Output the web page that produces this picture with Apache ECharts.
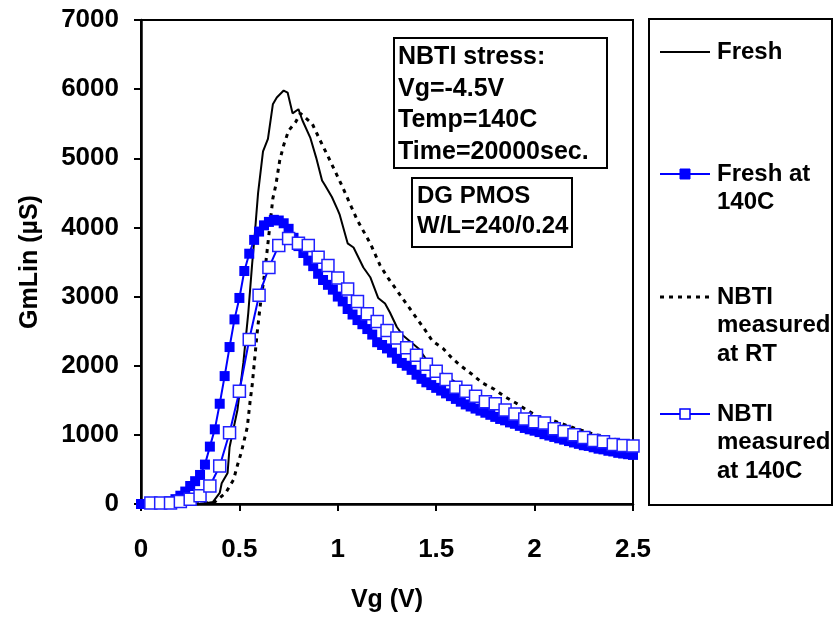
<!DOCTYPE html>
<html><head><meta charset="utf-8">
<script src="https://cdn.jsdelivr.net/npm/echarts@6/dist/echarts.min.js"></script>
<style>html,body{margin:0;padding:0;background:#fff}#c{width:835px;height:618px}</style>
</head><body><div id="c"></div>
<script>
// ---- Data ----
const xTicks = [0, 0.5, 1, 1.5, 2, 2.5];
const yTicks = [0, 1000, 2000, 3000, 4000, 5000, 6000, 7000];
const seriesNames = ['Fresh', 'Fresh at 140C', 'NBTI measured at RT', 'NBTI measured at 140C'];

const vgFresh = [0,0.1,0.2,0.3,0.335,0.366,0.40,0.41,0.44,0.45,0.49,0.52,0.545,0.565,0.58,0.585,0.595,0.62,0.645,0.67,0.69,0.70,0.725,0.745,0.77,0.80,0.82,0.86,0.89,0.92,0.935,0.97,1.0,1.01,1.05,1.08,1.13,1.165,1.205,1.24,1.265,1.30,1.33,1.41,1.46,1.5,1.55,1.6,1.7,1.8,1.9,2.0,2.1,2.2,2.3,2.4,2.5];
const gmFresh = [0,0,0,5,15,30,160,300,450,820,1360,2040,2760,3480,3960,4150,4500,5100,5280,5780,5880,5900,5980,5950,5650,5710,5550,5300,5010,4680,4610,4440,4250,4180,3770,3710,3420,3280,2980,2900,2770,2560,2440,2250,2050,1960,1850,1760,1590,1440,1320,1220,1120,1030,960,890,830];

const vgRT = [0,0.2,0.3,0.375,0.43,0.47,0.49,0.51,0.54,0.555,0.565,0.59,0.605,0.63,0.645,0.67,0.685,0.705,0.725,0.75,0.785,0.81,0.87,0.91,0.96,1.02,1.07,1.10,1.165,1.215,1.255,1.30,1.36,1.40,1.445,1.48,1.535,1.58,1.62,1.68,1.735,1.795,1.85,1.905,1.96,2.03,2.09,2.2,2.3,2.4,2.5];
const gmRT = [0,0,5,30,160,350,560,750,1110,1500,1720,2470,2850,3380,3770,4420,4610,4970,5190,5400,5520,5650,5500,5260,4970,4610,4290,4100,3770,3450,3270,3090,2850,2690,2510,2360,2250,2110,2010,1880,1750,1660,1550,1460,1360,1240,1210,1100,1010,940,880];

const vgHot = [0,0.025,0.05,0.075,0.1,0.125,0.15,0.175,0.2,0.225,0.25,0.275,0.3,0.325,0.35,0.375,0.4,0.425,0.45,0.475,0.5,0.525,0.55,0.575,0.6,0.625,0.65,0.675,0.7,0.725,0.75,0.775,0.8,0.825,0.85,0.875,0.9,0.925,0.95,0.975,1.0,1.025,1.05,1.075,1.1,1.125,1.15,1.175,1.2,1.225,1.25,1.275,1.3,1.325,1.35,1.375,1.4,1.425,1.45,1.475,1.5,1.525,1.55,1.575,1.6,1.625,1.65,1.675,1.7,1.725,1.75,1.775,1.8,1.825,1.85,1.875,1.9,1.925,1.95,1.975,2.0,2.025,2.05,2.075,2.1,2.125,2.15,2.175,2.2,2.225,2.25,2.275,2.3,2.325,2.35,2.375,2.4,2.425,2.45,2.475,2.5];
const gmHot = [0,0,5,10,15,25,40,70,120,180,260,330,420,570,830,1080,1450,1850,2270,2670,2980,3370,3620,3820,3940,4030,4080,4110,4100,4060,3980,3850,3730,3630,3520,3440,3330,3240,3170,3100,3000,2930,2820,2740,2660,2600,2530,2450,2340,2300,2250,2190,2100,2040,2000,1940,1870,1810,1760,1720,1680,1640,1600,1560,1520,1480,1440,1410,1380,1350,1320,1290,1260,1230,1210,1180,1160,1130,1100,1080,1060,1040,1010,990,970,950,930,910,890,870,850,840,820,800,790,770,760,740,730,720,710];

const vgNbtiHot = [0.05,0.1,0.15,0.2,0.25,0.3,0.35,0.4,0.45,0.5,0.55,0.6,0.65,0.7,0.75,0.8,0.85,0.9,0.95,1.0,1.05,1.1,1.15,1.2,1.25,1.3,1.35,1.4,1.45,1.5,1.55,1.6,1.65,1.7,1.75,1.8,1.85,1.9,1.95,2.0,2.05,2.1,2.15,2.2,2.25,2.3,2.35,2.4,2.45,2.5];
const gmNbtiHot = [15,15,15,35,70,120,260,550,1030,1630,2380,3020,3420,3740,3840,3770,3740,3570,3450,3270,3110,2930,2750,2640,2510,2400,2260,2150,2020,1920,1800,1690,1630,1560,1480,1450,1360,1300,1230,1190,1170,1090,1050,1000,960,920,900,860,845,840];

const noteStress = ['NBTI stress:', 'Vg=-4.5V', 'Temp=140C', 'Time=20000sec.'];
const noteDevice = ['DG PMOS', 'W/L=240/0.24'];
const legendLines = [['Fresh'], ['Fresh at', '140C'], ['NBTI', 'measured', 'at RT'], ['NBTI', 'measured', 'at 140C']];

// ---- Chart ----
const pair = (xs, ys) => xs.map((x, i) => [x, ys[i]]);
const FONT = 'Liberation Sans, Arial, sans-serif';
const BLUE = '#0000ff';

const chart = echarts.init(document.getElementById('c'), null, {renderer: 'canvas'});

const graphics = [];
// annotation boxes
graphics.push({type:'rect', shape:{x:394, y:38, width:213, height:130}, style:{fill:'#fff', stroke:'#000', lineWidth:2}, z:10});
noteStress.forEach((t, i) => graphics.push({type:'text', x:398, y:57 + i*31.7, style:{text:t, font:'bold 25px ' + FONT, fill:'#000', textVerticalAlign:'middle'}, z:11}));
graphics.push({type:'rect', shape:{x:412, y:178, width:160, height:69}, style:{fill:'#fff', stroke:'#000', lineWidth:2}, z:10});
noteDevice.forEach((t, i) => graphics.push({type:'text', x:417, y:196 + i*30, style:{text:t, font:'bold 24px ' + FONT, fill:'#000', textVerticalAlign:'middle'}, z:11}));

// legend box
graphics.push({type:'rect', shape:{x:649, y:19, width:183, height:486}, style:{fill:'#fff', stroke:'#000', lineWidth:2}, z:10});
const legY = [52, 174, 297, 414];
legendLines.forEach((lines, k) => {
  const y = legY[k];
  const dash = k === 2 ? [4, 5] : null;
  graphics.push({type:'line', shape:{x1:660, y1:y, x2:710, y2:y}, style:{stroke: (k===1||k===3)?BLUE:'#000', lineWidth: k===2?3:2, lineDash: dash}, z:11});
  if (k === 1) graphics.push({type:'rect', shape:{x:680, y:y-5, width:10, height:10}, style:{fill:BLUE, stroke:BLUE}, z:12});
  if (k === 3) graphics.push({type:'rect', shape:{x:680, y:y-5, width:10, height:10}, style:{fill:'#fff', stroke:BLUE, lineWidth:1.5}, z:12});
  lines.forEach((t, i) => graphics.push({type:'text', x:717, y:y + i*28.5, style:{text:t, font:'bold 24px ' + FONT, fill:'#000', textVerticalAlign:'middle'}, z:11}));
});

chart.setOption({
  animation: false,
  backgroundColor: '#fff',
  grid: {left:141, right:202, top:20, bottom:114, show:true, borderColor:'#000', borderWidth:2, backgroundColor:'transparent'},
  xAxis: {
    type:'value', min:0, max:2.5, interval:0.5,
    name:'Vg (V)', nameLocation:'middle', nameGap:84,
    nameTextStyle:{fontFamily:FONT, fontWeight:'bold', fontSize:25, color:'#000'},
    axisLine:{show:true, onZero:false, lineStyle:{color:'#000', width:2.5}},
    axisTick:{show:true, length:7, inside:false, lineStyle:{color:'#000', width:2}},
    axisLabel:{margin:33, fontFamily:FONT, fontWeight:'bold', fontSize:26, color:'#000',
      formatter: v => { const t = xTicks.find(q => Math.abs(q - v) < 1e-9); return t === undefined ? '' : String(t); }},
    splitLine:{show:false}
  },
  yAxis: {
    type:'value', min:0, max:7000, interval:1000,
    name:'GmLin (µS)', nameLocation:'middle', nameGap:98, nameRotate:90,
    nameTextStyle:{fontFamily:FONT, fontWeight:'bold', fontSize:25, color:'#000'},
    axisLine:{show:true, onZero:false, lineStyle:{color:'#000', width:2.5}},
    axisTick:{show:true, length:7, inside:false, lineStyle:{color:'#000', width:2}},
    axisLabel:{margin:22, fontFamily:FONT, fontWeight:'bold', fontSize:26, color:'#000', padding:[4,0,0,0],
      formatter: v => { const t = yTicks.find(q => q === v); return t === undefined ? '' : String(t); }},
    splitLine:{show:false}
  },
  graphic: graphics,
  series: [
    {name:seriesNames[0], type:'line', data:pair(vgFresh, gmFresh), showSymbol:false, symbol:'none',
     lineStyle:{color:'#000', width:2}, z:2},
    {name:seriesNames[2], type:'line', data:pair(vgRT, gmRT), showSymbol:false, symbol:'none',
     lineStyle:{color:'#000', width:3, type:[4,5]}, z:2},
    {name:seriesNames[1], type:'line', data:pair(vgHot, gmHot), symbol:'rect', symbolSize:10, showAllSymbol:true,
     lineStyle:{color:BLUE, width:2}, itemStyle:{color:BLUE, borderColor:BLUE, borderWidth:0}, z:3},
    {name:seriesNames[3], type:'line', data:pair(vgNbtiHot, gmNbtiHot), symbol:'rect', symbolSize:12, showAllSymbol:true,
     lineStyle:{color:BLUE, width:2}, itemStyle:{color:'#fff', borderColor:'#2020ff', borderWidth:1.5}, z:4}
  ]
});
</script></body></html>
